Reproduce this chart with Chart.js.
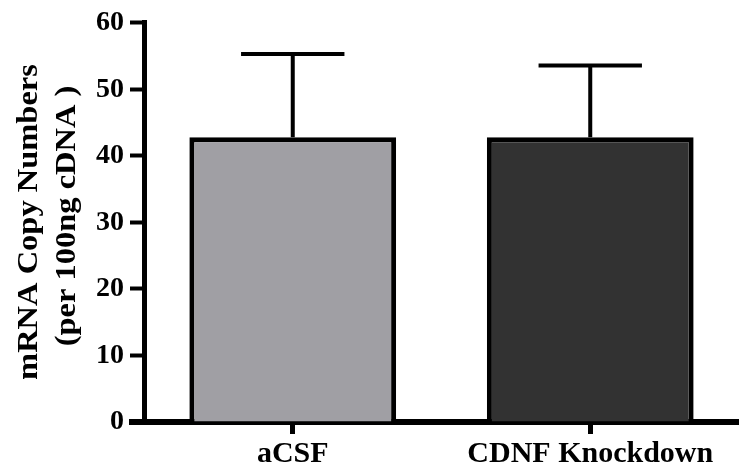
<!DOCTYPE html>
<html>
<head>
<meta charset="utf-8">
<script src="https://cdn.jsdelivr.net/npm/chart.js@4"></script>
<style>
  html, body { margin: 0; padding: 0; background: #fff; }
  #wrap { width: 739px; height: 468px; }
</style>
</head>
<body>
<div id="wrap"><canvas id="c" width="739" height="468"></canvas></div>
<script>
// Group means and SEM of mRNA copy numbers
const categories = ['aCSF', 'CDNF Knockdown'];
const meanCopies = [42.8, 42.8];
const semCopies = [12.5, 10.8];
const yTicks = [0, 10, 20, 30, 40, 50, 60];
const yTitleLines = ['mRNA Copy Numbers', '(per 100ng cDNA )'];
const barColors = ['#a09fa4', '#323232'];

const SERIF = '"Liberation Serif", "Times New Roman", serif';

// Upward SEM whiskers with a cap half the bar width
const errorBars = {
  id: 'errorBars',
  beforeDatasetsDraw(chart) {
    const { ctx, scales: { y } } = chart;
    const meta = chart.getDatasetMeta(0);
    ctx.save();
    ctx.strokeStyle = '#000';
    ctx.lineWidth = 4;
    meta.data.forEach((bar, i) => {
      const top = y.getPixelForValue(meanCopies[i] + semCopies[i]);
      const base = y.getPixelForValue(meanCopies[i]);
      const half = bar.width / 4;
      ctx.beginPath();
      ctx.moveTo(bar.x, base);
      ctx.lineTo(bar.x, top);
      ctx.moveTo(bar.x - half, top);
      ctx.lineTo(bar.x + half, top);
      ctx.stroke();
    });
    ctx.restore();
  }
};

// Two-line rotated y-axis title, plus the baseline running out to the tick marks
const axisExtras = {
  id: 'axisExtras',
  afterDraw(chart) {
    const { ctx, chartArea, scales: { y } } = chart;
    ctx.save();
    ctx.strokeStyle = '#000';
    ctx.lineWidth = 6;
    const y0 = y.getPixelForValue(0);
    ctx.beginPath();
    ctx.moveTo(chartArea.left - 15, y0);
    ctx.lineTo(chartArea.left, y0);
    ctx.stroke();

    ctx.fillStyle = '#000';
    ctx.font = 'bold 29px ' + SERIF;
    ctx.textAlign = 'center';
    ctx.textBaseline = 'alphabetic';
    const spots = [[37, 222], [75, 216]];
    yTitleLines.forEach((line, i) => {
      ctx.save();
      ctx.translate(spots[i][0], spots[i][1]);
      ctx.rotate(-Math.PI / 2);
      ctx.scale(1.12, 1);
      ctx.fillText(line, 0, 0);
      ctx.restore();
    });
    ctx.restore();
  }
};

new Chart(document.getElementById('c'), {
  type: 'bar',
  data: {
    labels: categories,
    datasets: [{
      data: meanCopies,
      backgroundColor: barColors,
      borderColor: '#000',
      borderWidth: 5,
      borderSkipped: 'start',
      categoryPercentage: 1,
      barPercentage: 0.695
    }]
  },
  options: {
    responsive: false,
    animation: false,
    layout: { padding: { top: 22, right: 0, left: 0, bottom: 0 } },
    plugins: { legend: { display: false }, tooltip: { enabled: false } },
    scales: {
      x: {
        z: 1,
        offset: true,
        afterFit(scale) { scale.height = 46; },
        border: { display: true, color: '#000', width: 6 },
        grid: { drawOnChartArea: false, drawTicks: true, tickLength: 12, tickWidth: 5, tickColor: '#000', offset: false },
        ticks: { color: '#000', padding: 2, font: { family: SERIF, size: 30, weight: 'bold' } }
      },
      y: {
        z: 1,
        min: yTicks[0],
        max: yTicks[yTicks.length - 1],
        afterFit(scale) { scale.width = 144; },
        afterBuildTicks(scale) { scale.ticks = yTicks.map(v => ({ value: v })); },
        border: { display: true, color: '#000', width: 5 },
        grid: { drawOnChartArea: false, drawTicks: true, tickLength: 14, tickWidth: 4, tickColor: '#000' },
        ticks: { color: '#000', padding: 6, font: { family: SERIF, size: 28, weight: 'bold' } }
      }
    }
  },
  plugins: [errorBars, axisExtras]
});
</script>
</body>
</html>
